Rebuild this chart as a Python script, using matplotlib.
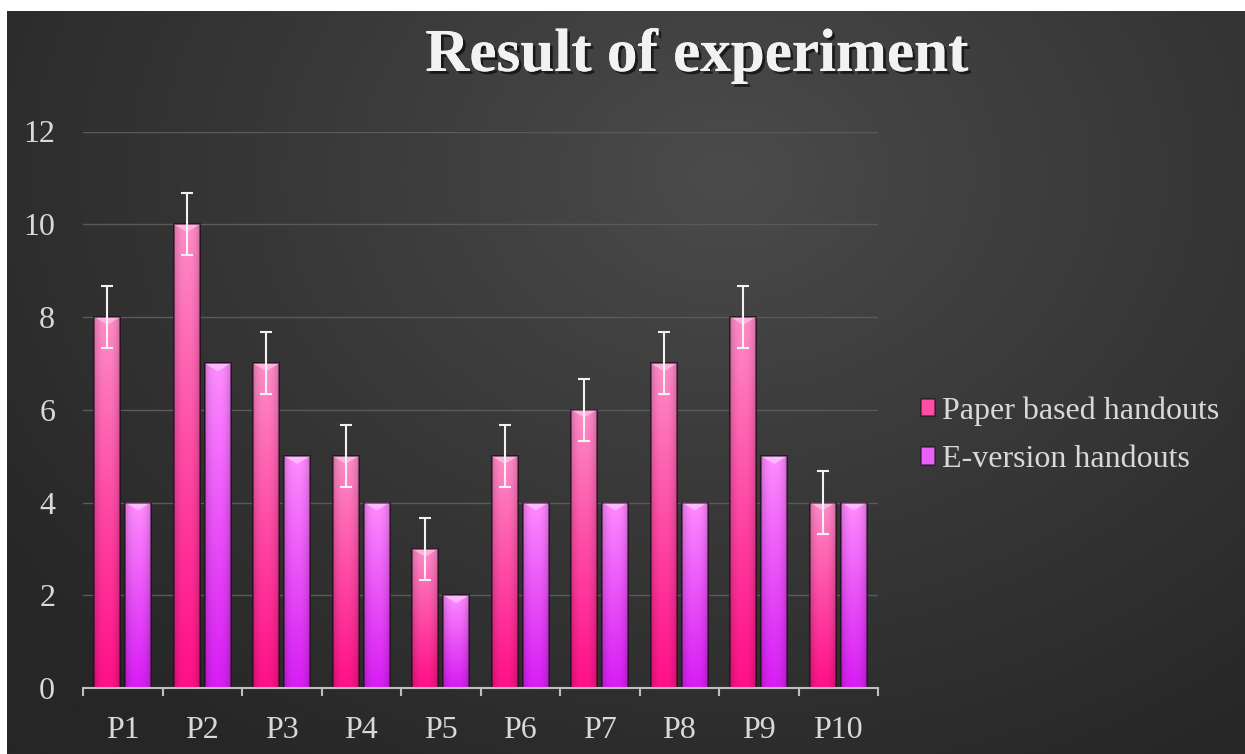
import numpy as np
import matplotlib
matplotlib.use("Agg")
import matplotlib.pyplot as plt
import matplotlib.patheffects as pe
from matplotlib.patches import Polygon
from matplotlib.colors import to_rgb

# data
categories = ["P1", "P2", "P3", "P4", "P5", "P6", "P7", "P8", "P9", "P10"]
paper = [8, 10, 7, 5, 3, 5, 6, 7, 8, 4]
paper_err = [0.67, 0.67, 0.67, 0.67, 0.67, 0.67, 0.67, 0.67, 0.67, 0.67]
eversion = [4, 7, 5, 4, 2, 4, 4, 4, 5, 4]
series_names = ["Paper based handouts", "E-version handouts"]
yticks = [0, 2, 4, 6, 8, 10, 12]

W, H = 1245, 754
fig = plt.figure(figsize=(W / 100, H / 100), dpi=100, facecolor="white")

# dark radial background (white strip on top and left like the source)
bg = fig.add_axes([7 / W, 0, 1 - 7 / W, 1 - 11 / H], zorder=-5)
yy, xx = np.mgrid[0:1:300j, 0:1:500j]
r = np.sqrt(((xx - 0.58) * 1.3) ** 2 + (yy - 0.22) ** 2)
r = np.clip(r / 0.95, 0, 1)
c_in = np.array(to_rgb("#4c4c4c"))
c_out = np.array(to_rgb("#262626"))
img = c_in + (c_out - c_in) * r[..., None] ** 0.9
bg.imshow(img, extent=[0, 1, 0, 1], aspect="auto", origin="upper")
bg.set_axis_off()

ax = fig.add_axes([83 / W, 1 - 688 / H, (878 - 83) / W, (688 - 131.5) / H])
ax.set_facecolor("none")

x = np.arange(len(categories))
width = 0.327
offset = 0.195
bevel = 0.17  # depth of the light chevron on bar tops, in data units


def gradient(top, bottom):
    t = np.linspace(1, 0, 120)[:, None]
    u = np.linspace(0, 1, 30)[None, :]
    top = np.array(to_rgb(top))
    bottom = np.array(to_rgb(bottom))
    g = bottom + (top - bottom) * (t[..., None] ** 1.1)
    shade = 1 - 0.18 * np.abs(2 * u - 1) ** 2.5
    g = g * shade[..., None]
    return np.clip(g, 0, 1)


styles = [
    (paper, -offset, "#ff8cc8", "#ff1188", "#ff4da6", "#ffc4e6"),
    (eversion, offset, "#ff8cff", "#d81ef5", "#e860f8", "#ffc8ff"),
]
for (vals, dx, top, bottom, mid, light), name in zip(styles, series_names):
    bars = ax.bar(x + dx, vals, width, color=mid, edgecolor=(0.12, 0.04, 0.1, 0.6),
                  linewidth=1.2, label=name, zorder=2)
    grad = gradient(top, bottom)
    for b in bars:
        x0, x1, h = b.get_x(), b.get_x() + b.get_width(), b.get_height()
        im = ax.imshow(grad, extent=[x0, x1, 0, h], aspect="auto", zorder=2.2, origin="upper")
        im.set_clip_path(b)
        ax.add_patch(Polygon([(x0, h), (x1, h), ((x0 + x1) / 2, h - bevel)],
                             closed=True, facecolor=light, edgecolor="none",
                             alpha=0.75, zorder=2.3))
    # soft outlines on top of the gradient
    ax.bar(x + dx, vals, width, fill=False, edgecolor=(0.15, 0.05, 0.12, 0.6),
           linewidth=1.2, zorder=2.5)

ax.errorbar(x - offset, paper, yerr=paper_err, fmt="none", ecolor="#f2f2f2",
            elinewidth=1.5, capsize=4.5, capthick=1.5, zorder=4)

ax.set_xlim(-0.5, len(categories) - 0.5)
ax.set_ylim(0, 12)
ax.set_yticks(yticks)
ax.set_xticks(x)
ax.set_xticklabels(categories)
ax.set_xticks(np.arange(len(categories) + 1) - 0.5, minor=True)

for lab in ax.get_xticklabels() + ax.get_yticklabels():
    lab.set_fontfamily("Liberation Serif")
    lab.set_fontsize(23)
    lab.set_color("#d9d9d9")

ax.tick_params(axis="x", which="major", length=0, pad=20)
ax.tick_params(axis="x", which="minor", length=6, width=1.5, color="#bfbfbf", direction="out")
ax.tick_params(axis="y", length=0, pad=20)

ax.grid(axis="y", color="#5a5a5a", linewidth=1.0, zorder=0)
ax.set_axisbelow(True)
for side in ["top", "right", "left"]:
    ax.spines[side].set_visible(False)
ax.spines["bottom"].set_color("#bfbfbf")
ax.spines["bottom"].set_linewidth(1.5)
ax.spines["bottom"].set_zorder(5)

leg = fig.legend(loc="upper left", bbox_to_anchor=(908 / W, 1 - 384 / H),
                 frameon=False, prop={"family": "Liberation Serif", "size": 23},
                 handlelength=0.45, handleheight=0.45, handletextpad=0.2,
                 labelspacing=0.6, borderaxespad=0)
for t in leg.get_texts():
    t.set_color("#d9d9d9")

fig.text(697 / W, 1 - 56 / H, "Result of experiment", ha="center", va="center",
         family="Liberation Serif", weight="bold", size=44, color="#f2f2f2",
         path_effects=[pe.withSimplePatchShadow(offset=(2, -2), shadow_rgbFace="black", alpha=0.6),
                       pe.Normal()])

fig.savefig("out.png", dpi=100)
